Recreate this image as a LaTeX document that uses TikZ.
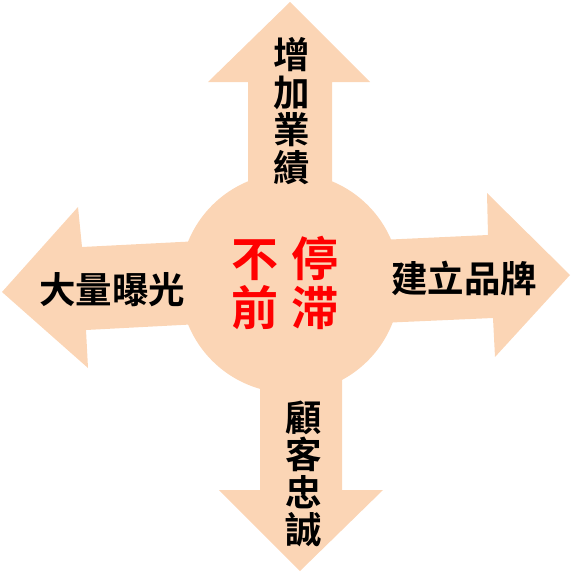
\documentclass[tikz,border=0pt]{standalone}
\usepackage{fontspec}
\newfontfamily\cjkfont{Noto Sans CJK TC}[BoldFont={* Bold}]
\definecolor{peach}{HTML}{FBD5B5}
\definecolor{redtxt}{HTML}{FF0000}
\begin{document}
\begin{tikzpicture}[x=1pt,y=-1pt,
  shapefill/.style={fill=peach,draw=none},
  blacklabel/.style={font=\cjkfont\bfseries\fontsize{36.5}{37.5}\selectfont,align=center,inner sep=0pt,text=black},
  redlabel/.style={font=\cjkfont\bfseries\fontsize{47}{49}\selectfont,align=center,inner sep=0pt,text=redtxt}]
\useasboundingbox (0,0) rectangle (572,573);
% up arrow
\fill[shapefill] (290,2) -- (370,82) -- (332,82) -- (332,200) -- (248,200) -- (248,82) -- (208,82) -- cycle;
% down arrow
\fill[shapefill] (260,370) -- (342,370) -- (342,490) -- (383,490) -- (300,571) -- (219,490) -- (260,490) -- cycle;
% left arrow
\fill[shapefill] (2,292) -- (78,207) -- (82,247) -- (200,241) -- (200,324) -- (86,330) -- (88,368) -- cycle;
% right arrow
\fill[shapefill] (380,240) -- (488,235) -- (487,193) -- (570,275) -- (495,357) -- (493,318) -- (380,323) -- cycle;
% circle
\fill[shapefill] (290,283) circle[radius=110];
% labels
\node[redlabel] (center) at (285,283) {不\hspace{13pt}停\\前\hspace{13pt}滞};
\node[blacklabel] (up) at (292,111) {增\\加\\業\\績};
\node[blacklabel] (down) at (304,474) {顧\\客\\忠\\誠};
\node[blacklabel] (left) at (112,290) {大量曝光};
\node[blacklabel] (right) at (464,278) {建立品牌};
\end{tikzpicture}
\end{document}
